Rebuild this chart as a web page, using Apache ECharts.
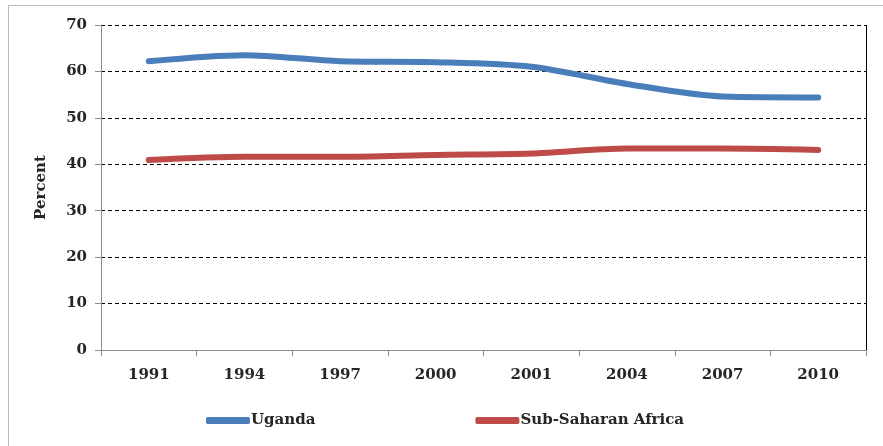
<!DOCTYPE html>
<html>
<head>
<meta charset="utf-8">
<script src="https://cdn.jsdelivr.net/npm/echarts@6/dist/echarts.min.js"></script>
<style>
* { margin: 0; padding: 0; }
body { background: #fff; }
#frame { position: absolute; left: 8px; top: 5px; width: 890px; height: 460px; border: 1px solid #bdbdbd; }
#chart { width: 883px; height: 446px; position: absolute; left: 0; top: 0; }
</style>
</head>
<body>
<div id="frame"></div>
<div id="chart"></div>
<script>
var years = ["1991", "1994", "1997", "2000", "2001", "2004", "2007", "2010"];
var uganda = [62.2, 63.5, 62.2, 62.0, 61.0, 57.3, 54.6, 54.4];
var ssa = [40.9, 41.6, 41.6, 42.0, 42.3, 43.4, 43.4, 43.1];
var yTicks = [0, 10, 20, 30, 40, 50, 60, 70];

var font = "DejaVu Serif";
var txt = { fontFamily: font, fontSize: 15, fontWeight: "bold", color: "#262626" };
var chart = echarts.init(document.getElementById("chart"));
chart.setOption({
  animation: false,
  grid: { left: 101, right: 17, top: 25, bottom: 96 },
  legend: {
    bottom: 18,
    left: 206,
    padding: 0,
    itemWidth: 44,
    itemHeight: 7,
    itemGap: 160,
    icon: "roundRect",
    textStyle: Object.assign({}, txt, { padding: [0, 0, 0, -4] }),
    data: ["Uganda", "Sub-Saharan Africa"]
  },
  xAxis: {
    type: "category",
    data: years,
    boundaryGap: true,
    axisLine: { lineStyle: { color: "#8c8c8c", width: 1 } },
    axisTick: { show: true, length: 6, lineStyle: { color: "#8c8c8c" } },
    axisLabel: Object.assign({}, txt, { margin: 18 })
  },
  yAxis: {
    type: "value",
    min: 0,
    max: 70,
    interval: 10,
    name: "Percent",
    nameLocation: "middle",
    nameGap: 52,
    nameTextStyle: txt,
    axisLine: { show: true, lineStyle: { color: "#8c8c8c" } },
    axisTick: { show: true, length: 6, lineStyle: { color: "#8c8c8c" } },
    axisLabel: Object.assign({}, txt, {
      margin: 14,
      formatter: function (v) { return yTicks.indexOf(v) >= 0 ? String(v) : ""; }
    }),
    splitLine: { show: true, lineStyle: { color: "#000", type: [4, 3], width: 1 } }
  },
  graphic: [{
    type: "line",
    shape: { x1: 866.5, y1: 25, x2: 866.5, y2: 350 },
    style: { stroke: "#000", lineWidth: 1 }
  }],
  series: [
    {
      name: "Uganda",
      type: "line",
      data: uganda,
      smooth: 0.3,
      symbol: "none",
      color: "#4a7ebb",
      lineStyle: { width: 6, cap: "round", color: "#4a7ebb" }
    },
    {
      name: "Sub-Saharan Africa",
      type: "line",
      data: ssa,
      smooth: 0.3,
      symbol: "none",
      color: "#be4b48",
      lineStyle: { width: 6, cap: "round", color: "#be4b48" }
    }
  ]
});
</script>
</body>
</html>
